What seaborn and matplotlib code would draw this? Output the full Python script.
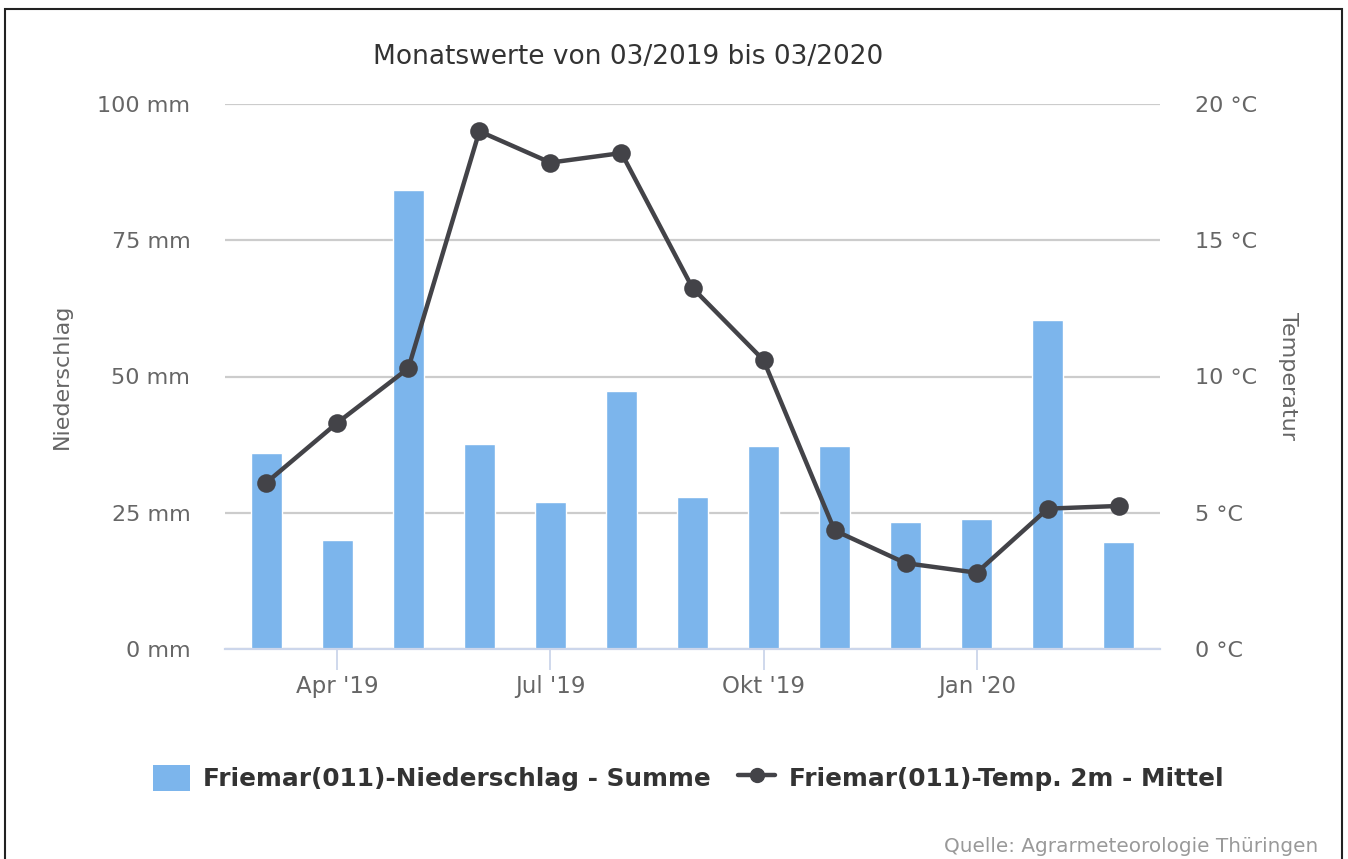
import numpy as np
import pandas as pd
import seaborn as sns
import matplotlib.pyplot as plt
from matplotlib.patches import Patch, Rectangle
from matplotlib.lines import Line2D

# monthly values 03/2019 - 03/2020
months = ["Mär '19", "Apr '19", "Mai '19", "Jun '19", "Jul '19", "Aug '19", "Sep '19",
          "Okt '19", "Nov '19", "Dez '19", "Jan '20", "Feb '20", "Mär '20"]
niederschlag = [36.0, 20.0, 84.3, 37.7, 27.0, 47.4, 27.9, 37.3, 37.3, 23.3, 23.8, 60.3, 19.7]
temperatur = [6.1, 8.3, 10.3, 19.0, 17.85, 18.2, 13.25, 10.6, 4.35, 3.15, 2.8, 5.15, 5.25]
shown_ticks = ["Apr '19", "Jul '19", "Okt '19", "Jan '20"]

df = pd.DataFrame({'monat': months, 'ns': niederschlag, 'temp': temperatur})

BAR = '#7cb5ec'
LINE = '#434348'
GRID = '#cccccc'
AXIS = '#ccd6eb'
LABEL = '#666666'

sns.set_theme(style="white")
plt.rcParams['font.family'] = ['DejaVu Sans']

W, H = 1348, 859
fig = plt.figure(figsize=(W / 100, H / 100), dpi=100)
ax = fig.add_axes([225 / W, 1 - 649 / H, (1160 - 225) / W, (649 - 104) / H])

sns.barplot(data=df, x='monat', y='ns', color=BAR, width=0.44, saturation=1, ax=ax, zorder=2)
ax.set_ylim(0, 100)
ax.set_yticks([0, 25, 50, 75, 100])
ax.set_yticklabels([f'{v} mm' for v in [0, 25, 50, 75, 100]])
ax.yaxis.grid(True, color=GRID, linewidth=1.6)
ax.set_axisbelow(True)

ax2 = ax.twinx()
sns.pointplot(data=df, x='monat', y='temp', color=LINE, markers='o', errorbar=None,
              linewidth=3.2, markersize=11, ax=ax2)
ax2.set_ylim(0, 20)
ax2.set_yticks([0, 5, 10, 15, 20])
ax2.set_yticklabels([f'{v} °C' for v in [0, 5, 10, 15, 20]])

for a in (ax, ax2):
    a.set_xlim(-0.58, 12.58)
    for s in a.spines.values():
        s.set_visible(False)
    a.tick_params(axis='y', length=0, labelsize=16, labelcolor=LABEL, pad=25)
    a.set_xlabel('')

ax.spines['bottom'].set_visible(True)
ax.spines['bottom'].set_color(AXIS)
ax.spines['bottom'].set_linewidth(1.6)

pos = [months.index(m) for m in shown_ticks]
ax.set_xticks(pos)
ax.set_xticklabels(shown_ticks)
ax.tick_params(axis='x', length=15, width=1.3, color=AXIS, labelsize=16.5, labelcolor=LABEL, pad=4, bottom=True)
ax2.tick_params(axis='x', bottom=False, labelbottom=False)

ax.set_ylabel('Niederschlag', fontsize=16, color=LABEL)
ax2.set_ylabel('Temperatur', fontsize=16, color=LABEL, rotation=270)
ax.yaxis.set_label_coords(-(225 - 72) / (1160 - 225), 0.5)
ax2.yaxis.set_label_coords(1 + (1298 - 1160) / (1160 - 225), 0.5)

fig.text(628 / W, 1 - 57 / H, 'Monatswerte von 03/2019 bis 03/2020', ha='center', va='center',
         fontsize=19, color='#333333')

handles = [Patch(facecolor=BAR, edgecolor='none'),
           Line2D([], [], color=LINE, marker='o', linewidth=3.2, markersize=10)]
leg = fig.legend(handles, ['Friemar(011)-Niederschlag - Summe', 'Friemar(011)-Temp. 2m - Mittel'],
                 loc='center', bbox_to_anchor=(688 / W, 1 - 778 / H), ncol=2, frameon=False,
                 prop={'weight': 'bold', 'size': 17.8}, handlelength=1.5, handleheight=1.3,
                 columnspacing=1.1, handletextpad=0.55)
for t in leg.get_texts():
    t.set_color('#333333')

fig.text(1318 / W, 1 - 846 / H, 'Quelle: Agrarmeteorologie Thüringen', ha='right', va='center',
         fontsize=14.4, color='#999999')

fig.patches.append(Rectangle((5 / W, -0.05), (1342 - 5) / W, 1.05 - 9 / H, transform=fig.transFigure,
                             fill=False, edgecolor='#222222', linewidth=1.5))

plt.savefig('out.png', dpi=100)
